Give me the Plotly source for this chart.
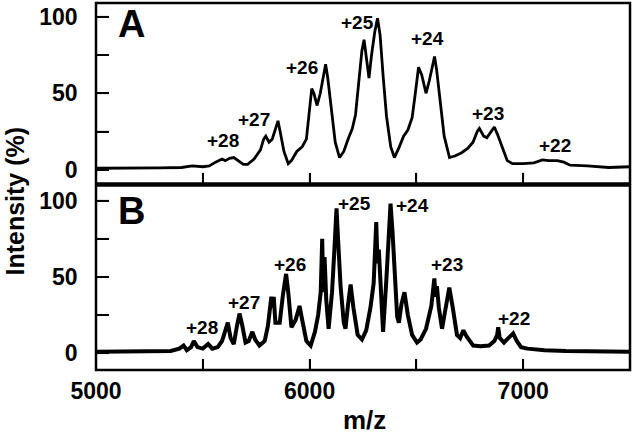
import plotly.graph_objects as go

# ---- Panel A spectrum (m/z, intensity %) ----
mz_a = [5000, 5100, 5200, 5300, 5400, 5450, 5500, 5530, 5560, 5590, 5605, 5625, 5645, 5665,
        5690, 5710, 5740, 5770, 5785, 5795, 5810, 5825, 5840, 5852, 5862, 5880, 5900, 5915,
        5940, 5965, 5985, 6000, 6010, 6020, 6035, 6050, 6065, 6075, 6085, 6100, 6120, 6140,
        6160, 6180, 6200, 6215, 6230, 6245, 6255, 6265, 6278, 6290, 6305, 6318, 6330, 6345,
        6360, 6380, 6397, 6420, 6440, 6460, 6480, 6495, 6510, 6525, 6545, 6560, 6575, 6585,
        6595, 6610, 6630, 6655, 6680, 6710, 6740, 6765, 6785, 6795, 6815, 6830, 6850, 6865,
        6880, 6900, 6925, 6950, 7000, 7050, 7090, 7120, 7160, 7190, 7220, 7300, 7400, 7500]
int_a = [1, 1, 1, 1.2, 1.5, 2.5, 2, 2.5, 5, 7, 6, 7.5, 8, 6,
         3.5, 3.5, 7, 13, 20, 22, 18, 20, 27, 32, 25, 12, 4, 6,
         12, 15, 20, 40, 53, 50, 42, 50, 62, 69, 60, 40, 18, 8,
         12, 20, 27, 36, 55, 78, 85, 75, 60, 75, 90, 99, 88, 60,
         35, 15, 8, 15, 22, 26, 34, 50, 67, 62, 50, 58, 68, 74,
         65, 45, 22, 8, 9, 11, 14, 18, 25, 27, 22, 21, 25, 28,
         23, 15, 6, 4, 4, 4.5, 6.5, 6, 6, 5, 3, 2.5, 1.5, 2]

# ---- Panel B spectrum ----
mz_b = [5000, 5100, 5200, 5300, 5350, 5390, 5410, 5425, 5445, 5458, 5475, 5500, 5525, 5545,
        5570, 5590, 5605, 5617, 5630, 5645, 5660, 5672, 5685, 5700, 5715, 5732, 5745, 5765,
        5790, 5805, 5815, 5821, 5826, 5832, 5840, 5860, 5875, 5890, 5900, 5915, 5935, 5953,
        5965, 5985, 6005, 6025, 6040, 6052, 6059, 6064, 6070, 6078, 6089, 6105, 6115, 6126,
        6135, 6145, 6160, 6168, 6180, 6192, 6205, 6225, 6245, 6265, 6285, 6300, 6312, 6318,
        6324, 6332, 6344, 6358, 6370, 6379, 6388, 6398, 6410, 6418, 6430, 6444, 6460, 6480,
        6503, 6520, 6545, 6570, 6584, 6590, 6596, 6605, 6620, 6635, 6654, 6670, 6690, 6705,
        6720, 6735, 6766, 6800, 6840, 6865, 6878, 6883, 6890, 6910, 6935, 6953, 6970, 6990,
        7020, 7100, 7200, 7300, 7400, 7500]
int_b = [1, 1, 1, 1, 1.5, 3, 5, 2, 4, 8, 4, 3, 6, 3,
         4, 8, 15, 20, 10, 6, 18, 26, 18, 7, 8, 14, 9, 5,
         8, 18, 30, 37, 30, 37, 20, 20, 38, 52, 40, 17, 22, 31,
         22, 8, 5, 14, 25, 40, 75, 40, 63, 35, 16, 40, 65, 95,
         70, 44, 20, 16, 32, 45, 30, 12, 9, 15, 30, 46, 86, 59,
         68, 40, 14, 45, 78, 98, 80, 50, 24, 20, 32, 40, 25, 12,
         7, 9, 16, 31, 49, 37, 44, 30, 16, 28, 43, 30, 12, 10,
         15, 11, 5, 4.5, 5, 8, 12, 17, 10, 7, 10, 13, 8, 4,
         3, 2, 1.5, 1.5, 1, 1]

# ---- Charge-state labels ----
labels = ["+28", "+27", "+26", "+25", "+24", "+23", "+22"]
lab_a_mz = [5593, 5738, 5963, 6222, 6551, 6836, 7150]
lab_a_y = [19, 33, 67, 96.5, 86, 37, 16]
lab_b_mz = [5495, 5692, 5907, 6210, 6484, 6642, 6958]
lab_b_y = [17, 33, 58, 98, 97, 58, 23]

x_ticks = [5000, 5500, 6000, 6500, 7000, 7500]
x_ticktext = ["5000", "", "6000", "", "7000", ""]
y_ticks = [0, 25, 50, 75, 100]
y_ticktext = ["0\u00a0\u00a0", "", "50\u00a0\u00a0", "", "100\u00a0\u00a0"]

FONT = "Liberation Sans, Arial, Helvetica, sans-serif"

fig = go.Figure()
fig.add_trace(go.Scatter(x=mz_a, y=int_a, mode="lines", xaxis="x", yaxis="y",
                         line=dict(color="black", width=2.8), showlegend=False))
fig.add_trace(go.Scatter(x=mz_b, y=int_b, mode="lines", xaxis="x2", yaxis="y2",
                         line=dict(color="black", width=4), showlegend=False))

annotations = []
for t, xm, yv in zip(labels, lab_a_mz, lab_a_y):
    annotations.append(dict(x=xm, y=yv, xref="x", yref="y", text=t, showarrow=False,
                            font=dict(family=FONT, size=19, color="black", weight="bold")))
for t, xm, yv in zip(labels, lab_b_mz, lab_b_y):
    annotations.append(dict(x=xm, y=yv, xref="x2", yref="y2", text=t, showarrow=False,
                            font=dict(family=FONT, size=19, color="black", weight="bold")))
annotations.append(dict(x=5164, y=95, xref="x", yref="y", text="A", showarrow=False,
                        font=dict(family=FONT, size=38, color="black", weight="bold")))
annotations.append(dict(x=5164, y=93, xref="x2", yref="y2", text="B", showarrow=False,
                        font=dict(family=FONT, size=38, color="black", weight="bold")))
annotations.append(dict(x=-0.151, y=0.46, xref="paper", yref="paper", text="Intensity (%)",
                        textangle=-90, showarrow=False, xanchor="center", yanchor="middle",
                        font=dict(family=FONT, size=25, color="black", weight="bold")))
annotations.append(dict(x=0.503, y=-0.135, xref="paper", yref="paper", text="m/z",
                        showarrow=False, xanchor="center", yanchor="middle",
                        font=dict(family=FONT, size=26, color="black", weight="bold")))

tickfont = dict(family=FONT, size=23, color="black", weight="bold")
axis_common = dict(showline=True, linecolor="black", linewidth=1, mirror=True,
                   ticks="inside", tickwidth=2, tickcolor="black")

CLEAR = "rgba(0,0,0,0)"
shapes = []
# thick frame around each panel
for xr, yr in (("x", "y"), ("x2", "y2")):
    shapes.append(dict(type="rect", xref=xr + " domain", yref=yr + " domain",
                       x0=0, x1=1, y0=0, y1=1, fillcolor=CLEAR, opacity=1,
                       line=dict(color="black", width=2.5)))
# inward tick marks placed through the axes' own scales
for xr, yr, xlen, ylen in (("x", "y", 0.061, 0.0243), ("x2", "y2", 0.060, 0.0243)):
    for xv in x_ticks[1:-1]:
        shapes.append(dict(type="line", xref=xr, yref=yr + " domain", x0=xv, x1=xv,
                           y0=0, y1=xlen, line=dict(color="black", width=2)))
    for yv in y_ticks:
        shapes.append(dict(type="line", xref=xr + " domain", yref=yr, x0=0, x1=ylen,
                           y0=yv, y1=yv, line=dict(color="black", width=2)))

fig.update_layout(
    template="simple_white",
    width=633, height=440,
    margin=dict(l=96, r=3, t=3, b=70),
    paper_bgcolor="white", plot_bgcolor="white",
    xaxis=dict(domain=[0, 1], anchor="y", range=[5000, 7500], tickvals=x_ticks,
               ticklen=11, showticklabels=False, **axis_common),
    yaxis=dict(domain=[0.508, 1], anchor="x", range=[-9, 109], tickvals=y_ticks,
               ticktext=y_ticktext, ticklen=13, tickfont=tickfont, **axis_common),
    xaxis2=dict(domain=[0, 1], anchor="y2", range=[5000, 7500], tickvals=x_ticks,
                ticktext=x_ticktext, ticklen=11, tickfont=tickfont, **axis_common),
    yaxis2=dict(domain=[0, 0.503], anchor="x2", range=[-11, 110], tickvals=y_ticks,
                ticktext=y_ticktext, ticklen=13, tickfont=tickfont, **axis_common),
    annotations=annotations,
    shapes=shapes,
)

fig.write_html("out.html", post_script="document.body.style.margin='0';",
               config={"displayModeBar": False})
